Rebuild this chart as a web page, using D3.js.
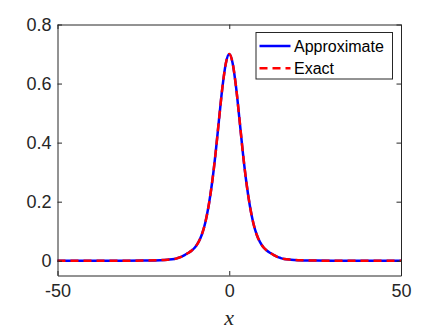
<!DOCTYPE html>
<html lang="en">
<head>
<meta charset="UTF-8">
<title>Approximate vs Exact</title>
<style>
  body { margin: 0; background: #fff; }
  svg { display: block; }
</style>
</head>
<body>
<svg width="443" height="332"></svg>
<script src="https://d3js.org/d3.v7.min.js"></script>
<script>
// values
var xs = [-50, -40, -30, -25, -20, -18, -16, -15, -14, -13, -12, -11, -10, -9, -8, -7, -6, -5, -4, -3, -2, -1, 0,
          1, 2, 3, 4, 5, 6, 7, 8, 9, 10, 11, 12, 13, 14, 15, 16, 18, 20, 25, 30, 40, 50];
var approx = [0, 0, 0, 0.0005, 0.002, 0.0035, 0.006, 0.009, 0.013, 0.019, 0.026, 0.034, 0.045, 0.062, 0.088, 0.128, 0.186, 0.264, 0.362, 0.476, 0.586, 0.668, 0.700,
              0.668, 0.586, 0.476, 0.362, 0.264, 0.186, 0.128, 0.088, 0.062, 0.045, 0.034, 0.026, 0.019, 0.013, 0.009, 0.006, 0.0035, 0.002, 0.0005, 0, 0, 0];
var exact = approx.slice();
var seriesNames = ["Approximate", "Exact"];
var xTicks = [-50, 0, 50];
var yTicks = [0, 0.2, 0.4, 0.6, 0.8];

var svg = d3.select("svg");
var marge = {left: 57.5, right: 401, top: 24.5, bottom: 275.5};
var axisColor = "#262626";

var x = d3.scaleLinear().domain([-50, 50]).range([marge.left, marge.right]);
var y = d3.scaleLinear().domain([-0.05, 0.8]).range([marge.bottom, marge.top]);

var g = svg.append("g");

// curves
var line = d3.line()
  .x(function(d){ return x(d[0]); })
  .y(function(d){ return y(d[1]); })
  .curve(d3.curveMonotoneX);

g.append("path")
  .datum(xs.map(function(v, i){ return [v, approx[i]]; }))
  .attr("d", line)
  .attr("fill", "none")
  .attr("stroke", "#0000ff")
  .attr("stroke-width", 2.5);

g.append("path")
  .datum(xs.map(function(v, i){ return [v, exact[i]]; }))
  .attr("d", line)
  .attr("fill", "none")
  .attr("stroke", "#ff0000")
  .attr("stroke-width", 2.5)
  .attr("stroke-dasharray", "8,5");

// axes (box with inward ticks)
var tickLen = 4.5;
var axB = d3.axisBottom(x).tickValues(xTicks).tickSizeInner(-tickLen).tickSizeOuter(0).tickPadding(9)
  .tickFormat(function(d){ return String(d); });
var axT = d3.axisTop(x).tickValues(xTicks).tickSizeInner(-tickLen).tickSizeOuter(0).tickFormat("");
var axL = d3.axisLeft(y).tickValues(yTicks).tickSizeInner(-tickLen).tickSizeOuter(0).tickPadding(6)
  .tickFormat(function(d){ return d === 0 ? "0" : d3.format(".1f")(d); });
var axR = d3.axisRight(y).tickValues(yTicks).tickSizeInner(-tickLen).tickSizeOuter(0).tickFormat("");

function style(sel) {
  sel.select(".domain").attr("stroke", axisColor).attr("stroke-width", 1);
  sel.selectAll(".tick line").attr("stroke", axisColor).attr("stroke-width", 1);
  sel.selectAll(".tick text").attr("fill", axisColor)
    .style("font-family", "'Liberation Sans', Arial, sans-serif").style("font-size", "18px");
}

g.append("g").attr("transform", "translate(0," + marge.bottom + ")").call(axB).call(style);
g.append("g").attr("transform", "translate(0," + marge.top + ")").call(axT).call(style);
g.append("g").attr("transform", "translate(" + marge.left + ",0)").call(axL).call(style);
g.append("g").attr("transform", "translate(" + marge.right + ",0)").call(axR).call(style);

// x label
svg.append("text")
  .attr("x", x(0))
  .attr("y", 325)
  .attr("text-anchor", "middle")
  .style("font-family", "'Liberation Serif', 'Times New Roman', serif")
  .style("font-style", "italic")
  .style("font-size", "22px")
  .attr("fill", axisColor)
  .text("x");

// legend
var leg = svg.append("g").attr("transform", "translate(256,32.5)");
leg.append("rect")
  .attr("width", 136.5).attr("height", 46.5)
  .attr("fill", "#fff").attr("stroke", axisColor).attr("stroke-width", 1);

var legStyles = [
  {color: "#0000ff", dash: null},
  {color: "#ff0000", dash: "8,5"}
];
seriesNames.forEach(function(name, i){
  var cy = 13.5 + i * 22.3;
  leg.append("line")
    .attr("x1", 3.5).attr("x2", 34.5).attr("y1", cy).attr("y2", cy)
    .attr("stroke", legStyles[i].color).attr("stroke-width", 2.5)
    .attr("stroke-dasharray", legStyles[i].dash);
  leg.append("text")
    .attr("x", 38).attr("y", cy + 6)
    .style("font-family", "'Liberation Sans', Arial, sans-serif")
    .style("font-size", "16px")
    .attr("fill", "#000")
    .text(name);
});
</script>
</body>
</html>
